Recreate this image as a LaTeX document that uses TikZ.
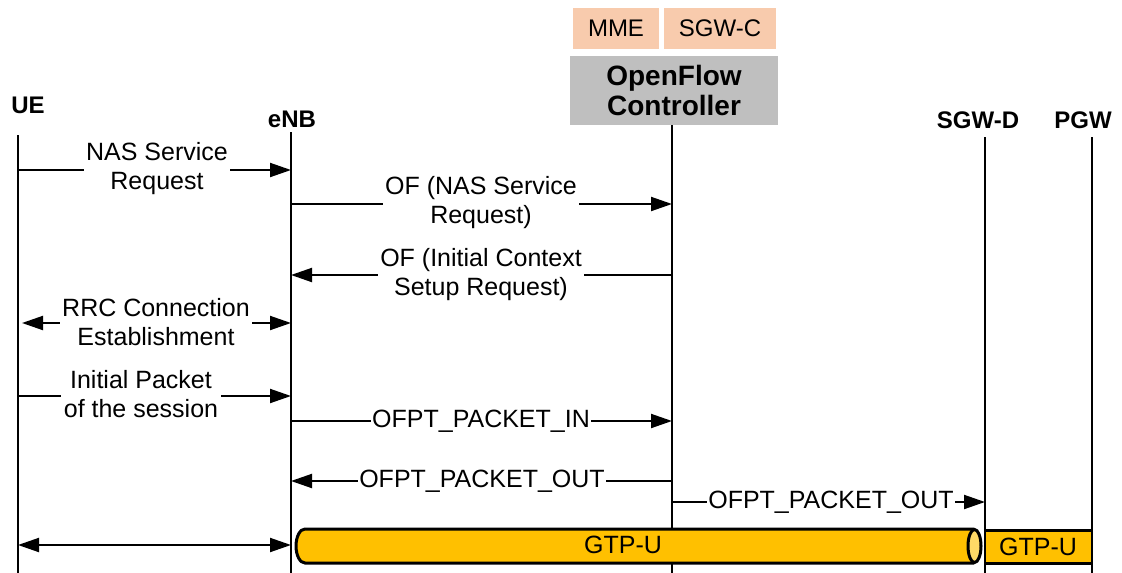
\documentclass[tikz,border=0pt]{standalone}
\usepackage{fontspec}
\setmainfont{Liberation Sans}
\usetikzlibrary{arrows.meta}
\definecolor{peach}{HTML}{F8CBAD}
\definecolor{ctrlgray}{HTML}{BFBFBF}
\definecolor{gtp}{HTML}{FFC000}
\definecolor{gtpcap}{HTML}{FFD966}
\begin{document}
\begin{tikzpicture}[x=1pt,y=-1pt,
  font=\fontsize{25}{29}\selectfont,
  head/.style={font=\fontsize{24}{28}\selectfont\bfseries, inner sep=0pt},
  peachbox/.style={fill=peach, inner sep=0pt, minimum height=41pt, font=\fontsize{24}{28}\selectfont},
  ctrlbox/.style={fill=ctrlgray, inner sep=0pt, minimum width=208pt, minimum height=69pt,
    align=center, font=\fontsize{28}{32}\selectfont\bfseries},
  life/.style={line width=1.4pt},
  msg/.style={line width=2pt, -{Triangle[length=21pt,width=14pt]}},
  dmsg/.style={line width=2pt, {Triangle[length=21pt,width=14pt]}-{Triangle[length=21pt,width=14pt]}},
  lbl/.style={fill=white, inner sep=2.5pt, align=center},
  tube/.style={line width=3pt, draw=black}]
\useasboundingbox (0,0) rectangle (1122,573);

% control-plane functions and the controller
\node[peachbox, minimum width=86pt] (mme) at (616,28.5) {MME};
\node[peachbox, minimum width=112pt] (sgwc) at (720,28.5) {SGW-C};
\node[ctrlbox] (ctrl) at (674,90.5) {OpenFlow\\[-2pt]Controller};

% entity names
\node[head] (ue) at (28,105) {UE};
\node[head] (enb) at (292,119) {eNB};
\node[head] (sgwd) at (978,120) {SGW-D};
\node[head] (pgw) at (1083,120) {PGW};

% lifelines
\coordinate (ueT) at (18,135);   \coordinate (ueB) at (18,573);
\coordinate (enbT) at (291,132); \coordinate (enbB) at (291,573);
\coordinate (ctT) at (672,125);  \coordinate (ctB) at (672,573);
\coordinate (sdT) at (985,137);  \coordinate (sdB) at (985,573);
\coordinate (pgT) at (1092,137); \coordinate (pgB) at (1092,573);
\draw[life] (ueT) -- (ueB);
\draw[life] (enbT) -- (enbB);
\draw[life] (ctT) -- (ctB);
\draw[life] (sdT) -- (sdB);
\draw[life] (pgT) -- (pgB);

% message rows
\coordinate (r1) at (0,170);
\coordinate (r2) at (0,204);
\coordinate (r3) at (0,275);
\coordinate (r4) at (0,323);
\coordinate (r5) at (0,396);
\coordinate (r6) at (0,421);
\coordinate (r7) at (0,481);
\coordinate (r8) at (0,502);
\coordinate (r9) at (0,545);

\draw[msg] (ueT |- r1) -- (enbT |- r1);
\node[lbl] (m1) at (157,169) {NAS Service\\Request};

\draw[msg] (enbT |- r2) -- (ctT |- r2);
\node[lbl] (m2) at (481,203) {OF (NAS Service\\Request)};

\draw[msg] (ctT |- r3) -- (enbT |- r3);
\node[lbl] (m3) at (481,275) {OF (Initial Context\\Setup Request)};

\draw[dmsg, shorten <=4pt] (ueT |- r4) -- (enbT |- r4);
\node[lbl] (m4) at (156,322) {RRC Connection\\Establishment};

\draw[msg] (ueT |- r5) -- (enbT |- r5);
\node[lbl] (m5) at (141,394) {Initial Packet\\of the session};

\draw[msg] (enbT |- r6) -- (ctT |- r6);
\node[lbl, inner sep=1pt] (m6) at (481,421) {OFPT\_PACKET\_IN};

\draw[msg] (ctT |- r7) -- (enbT |- r7);
\node[lbl, inner sep=1pt] (m7) at (482,481) {OFPT\_PACKET\_OUT};

\draw[msg] (ctT |- r8) -- (sdT |- r8);
\node[lbl, inner sep=1pt] (m8) at (831,502) {OFPT\_PACKET\_OUT};

\draw[dmsg] (ueT |- r9) -- (enbT |- r9);

% GTP-U tunnel eNB -- SGW-D (rounded left end, open cap on the right)
\filldraw[tube, fill=gtp] (974,529) -- (305,529)
  arc[start angle=270, end angle=90, x radius=9, y radius=17]
  -- (974,563);
\filldraw[tube, fill=gtpcap] (974.5,546) ellipse[x radius=6.5, y radius=16.5];
\node (g1) at (623,545) {GTP-U};

% GTP-U segment SGW-D -- PGW
\fill[gtp] (sdT |- 0,530) rectangle (pgT |- 0,563);
\draw[line width=3pt] (sdT |- 0,530) -- (pgT |- 0,530);
\draw[line width=3pt] (sdT |- 0,563) -- (pgT |- 0,563);
\draw[life] (sdT |- 0,530) -- (sdT |- 0,563);
\draw[life] (pgT |- 0,530) -- (pgT |- 0,563);
\node (g2) at (1038,547) {GTP-U};
\end{tikzpicture}
\end{document}
